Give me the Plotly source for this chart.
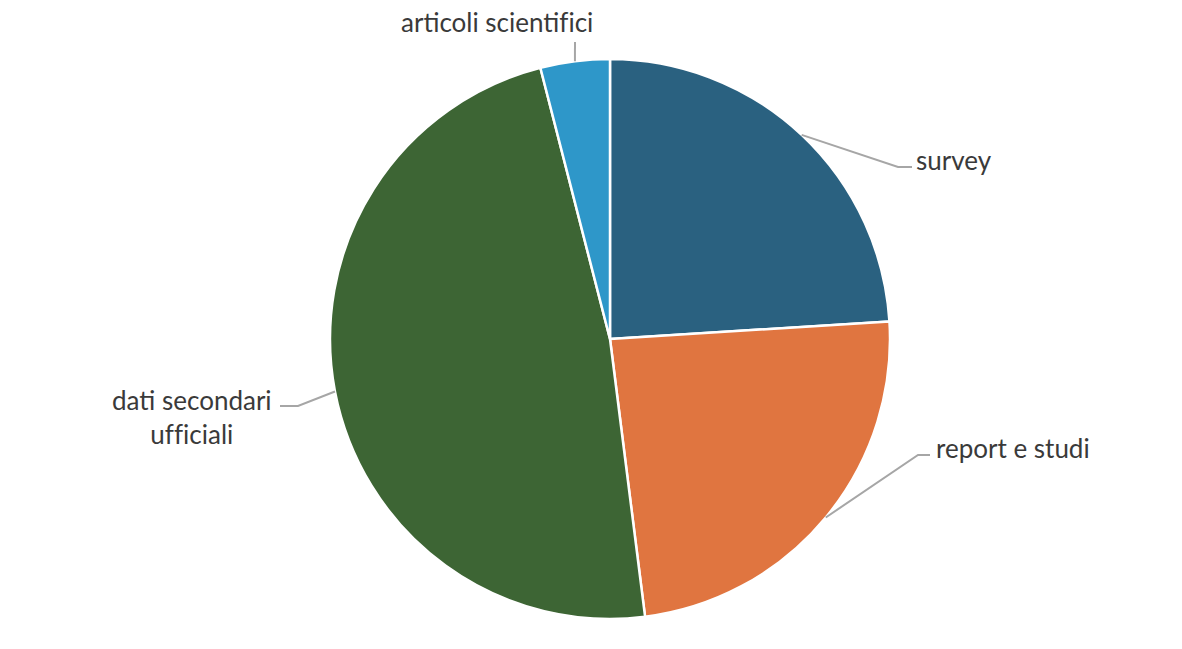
import math
import plotly.graph_objects as go

categories = ["survey", "report e studi", "dati secondari ufficiali", "articoli scientifici"]
values = [6, 6, 12, 1]
colors = ["#2A6180", "#E07540", "#3D6534", "#2E97C9"]
label_texts = ["survey", "report e studi", "dati secondari<br>ufficiali", "articoli scientifici"]

W, H = 1182, 649
CX, CY, R = 610, 339, 280

# label layout (pixel positions): elbow point, line end, text anchor
label_layout = [
    dict(elbow=(898, 167), end=(912, 167), text=(914, 160), xanchor="left"),
    dict(elbow=(918, 455), end=(930, 455), text=(934, 448), xanchor="left"),
    dict(elbow=(298, 406), end=(280, 406), text=(274, 417), xanchor="right"),
    dict(elbow=(575, 42), end=(575, 42), text=(497, 22), xanchor="center"),
]

def px(x):
    return x / W

def py(y):
    return 1 - y / H

def no_lig(s):
    # break the "fi" ligature so the glyphs look like the reference
    return s.replace("fi", "f\u200ci").replace("ff", "f\u200cf")

fig = go.Figure(go.Pie(
    labels=categories,
    values=values,
    sort=False,
    direction="clockwise",
    rotation=0,
    marker=dict(colors=colors, line=dict(color="white", width=2.5)),
    textinfo="none",
    hoverinfo="label+percent",
    domain=dict(x=[px(CX - R), px(CX + R)], y=[py(CY + R), py(CY - R)]),
    showlegend=False,
))

total = sum(values)
cum = 0
shapes = []
annotations = []
for v, txt, lay in zip(values, label_texts, label_layout):
    mid = (cum + v / 2) / total * 2 * math.pi
    cum += v
    ex = CX + R * math.sin(mid)
    ey = CY - R * math.cos(mid)
    (bx, by), (fx, fy) = lay["elbow"], lay["end"]
    path = f"M {px(ex)} {py(ey)} L {px(bx)} {py(by)} L {px(fx)} {py(fy)}"
    shapes.append(dict(type="path", path=path, xref="paper", yref="paper",
                       line=dict(color="#A6A6A6", width=2)))
    tx, ty = lay["text"]
    annotations.append(dict(text=no_lig(txt), x=px(tx), y=py(ty), xref="paper", yref="paper",
                            xanchor=lay["xanchor"], yanchor="middle", showarrow=False,
                            align="center",
                            font=dict(family="Lato, Open Sans, sans-serif", size=26, color="#3A3A3A")))

fig.update_layout(
    width=W, height=H,
    margin=dict(l=0, r=0, t=0, b=0),
    paper_bgcolor="white",
    plot_bgcolor="white",
    shapes=shapes,
    annotations=annotations,
)

fig.write_html("out.html", config={"displayModeBar": False},
               post_script="document.body.style.margin='0';document.body.style.overflow='hidden';")
